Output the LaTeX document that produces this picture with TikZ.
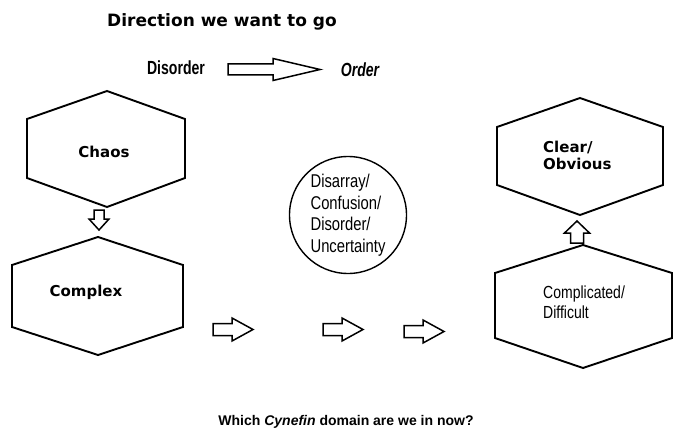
\documentclass[tikz,border=0pt]{standalone}
\usepackage{fontspec}
\usepackage{tikz}
\newfontfamily\widefont{DejaVu Sans}
\newfontfamily\narrowfont[FakeStretch=0.8]{Liberation Sans}
\newfontfamily\narrowbold[FakeStretch=0.74]{Liberation Sans}
\newfontfamily\arialfont{Liberation Sans}

\tikzset{
    hexline/.style={draw, line width=1.9pt, line join=miter},
    arrowline/.style={draw, line width=1.5pt, line join=miter, fill=white},
    widelabel/.style={font=\widefont\bfseries\fontsize{15}{17}\selectfont, inner sep=0pt, align=left},
    narrowlabel/.style={font=\narrowfont\fontsize{18}{21}\selectfont, inner sep=0pt, align=left},
    pics/blockarrow/.style args={#1/#2/#3/#4}{code={
        \draw[arrowline] (0,-#3) -- (#2,-#3) -- (#2,-#4) -- (#1,0) -- (#2,#4) -- (#2,#3) -- (0,#3) -- cycle;
    }}
}

% hexagon: apex x, top y, left x, right x, upper y, lower y, bottom y
\newcommand{\hexagon}[7]{%
    \draw[hexline] (#1,#2) -- (#4,#5) -- (#4,#6) -- (#1,#7) -- (#3,#6) -- (#3,#5) -- cycle;}

\begin{document}
\begin{tikzpicture}[x=1pt, y=-1pt]
    \useasboundingbox (0,0) rectangle (675,433);

    \node (title) at (222,22) [font=\widefont\bfseries\fontsize{17}{20}\selectfont] {Direction we want to go};
    \node (disorder) at (176,68) [narrowlabel, font=\narrowbold\bfseries\fontsize{19}{22}\selectfont] {Disorder};
    \node (order) at (360,70) [narrowlabel, font=\narrowbold\bfseries\itshape\fontsize{19}{22}\selectfont] {Order};
    \pic at (228,69.5) {blockarrow=92/45/5.5/11};

    % left column
    \hexagon{107}{91}{27}{185}{119}{178}{207}
    \node (chaos) at (104,152) [widelabel] {Chaos};
    \pic[rotate=-90] at (99,210) {blockarrow=20/9/5/10};
    \hexagon{98}{237}{12}{183}{265}{327}{355}
    \node (complex) at (86,292) [widelabel] {Complex};

    % middle
    \node (disarray) at (348,215) [circle, draw, line width=1.4pt, inner sep=0pt, minimum size=117pt,
        align=left, font=\narrowfont\fontsize{18.5}{21.5}\selectfont] {Disarray/\\Confusion/\\Disorder/\\Uncertainty};
    \pic at (213,329.5) {blockarrow=40/19/6/11.5};
    \pic at (323,329.5) {blockarrow=40/19/6/11.5};
    \pic at (404,331.5) {blockarrow=40/19/6/11.5};

    % right column
    \hexagon{580}{98}{497}{663}{127}{185}{215}
    \node (clear) at (543,155) [widelabel, anchor=west] {Clear/\\Obvious};
    \pic[rotate=90] at (577,243) {blockarrow=22/10/6.5/12.5};
    \hexagon{583}{245}{495}{672}{273}{338}{368}
    \node (complicated) at (543,302) [narrowlabel, anchor=west, font=\narrowfont\fontsize{17.5}{20}\selectfont] {Complicated/\\Difficult};

    \node (question) at (346,422) [font=\arialfont\bfseries\fontsize{14}{16}\selectfont] {Which \textit{Cynefin} domain are we in now?};
\end{tikzpicture}
\end{document}
